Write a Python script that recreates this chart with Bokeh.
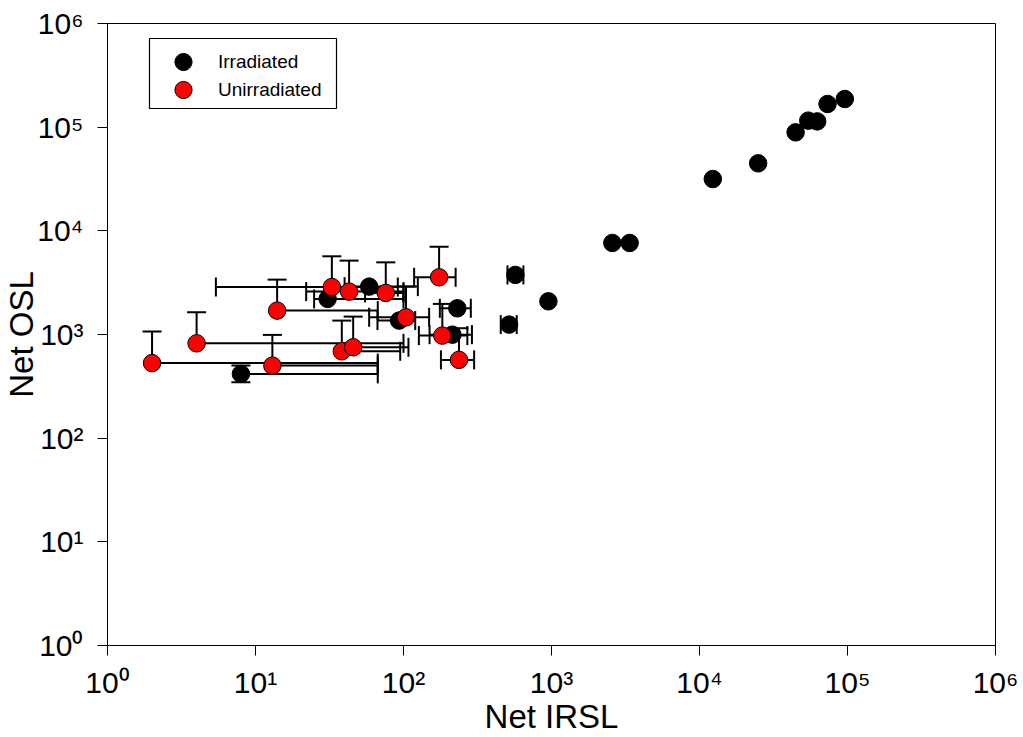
import math
from bokeh.plotting import figure
from bokeh.models import (Range1d, FixedTicker, Legend, LegendItem,
                          ColumnDataSource, BoxAnnotation)
from bokeh.embed import file_html
from bokeh.resources import INLINE

FONT = "Liberation Sans"

# ---------------- data ----------------
x_ticks = [1, 10, 100, 1000, 10000, 100000, 1000000]
y_ticks = [1, 10, 100, 1000, 10000, 100000, 1000000]
tick_labels = ["10⁰", "10¹", "10²", "10³", "10⁴", "10⁵", "10⁶"]

# Irradiated (black)
irr_x = [2577, 3373, 12300, 24900, 44600, 54300, 62400, 73300, 95900,
         570, 953, 517, 231, 214, 93.4, 58.6, 30.7, 7.97]
irr_y = [7640, 7640, 31600, 44800, 89100, 115600, 113700, 167400, 187000,
         3756, 2090, 1246, 1790, 996, 1362, 2897, 2204, 417]
irr_xlo = [None] * 9 + [504, None, 454, 176, 150, 66.7, 40, 24.9, None]
irr_xhi = [None] * 9 + [646, None, 582, 285, 290, 120, 125, 100, 67]
irr_ylo = [None] * 17 + [347]
irr_yhi = [None] * 17 + [501]

# Unirradiated (red)
uni_x = [2.0, 4.0, 13.0, 14.0, 32.8, 42.9, 75.9, 104, 38.3, 45.7, 174, 183, 237]
uni_y = [530, 822, 501, 1700, 2870, 2593, 2518, 1466, 689, 753, 3564, 976, 569]
uni_xlo = [None, None, None, None, 5.4, 22, 55, 58.6, None, None, 118, 127, 179]
uni_xhi = [67, 100, 67, 67, 91.5, 100, 100, 149, 95, 108, 225, 270, 300]
uni_ylo = [None] * 13
uni_yhi = [1067, 1637, 991, 3383, 5680, 5161, 4967, 2897, 1362, 1488, 7040, 1973, 1150]

series_names = ["Irradiated", "Unirradiated"]
x_title = "Net IRSL"
y_title = "Net OSL"


def error_sources(xs, ys, xlo, xhi, ylo, yhi):
    seg = dict(x0=[], y0=[], x1=[], y1=[])
    hcap = dict(x=[], y=[])   # caps on horizontal bars (vertical ticks)
    vcap = dict(x=[], y=[])   # caps on vertical bars (horizontal ticks)
    for x, y, a, b, c, d in zip(xs, ys, xlo, xhi, ylo, yhi):
        if a is not None or b is not None:
            seg["x0"].append(a if a is not None else x)
            seg["x1"].append(b if b is not None else x)
            seg["y0"].append(y)
            seg["y1"].append(y)
            for v in (a, b):
                if v is not None:
                    hcap["x"].append(v)
                    hcap["y"].append(y)
        if c is not None or d is not None:
            seg["x0"].append(x)
            seg["x1"].append(x)
            seg["y0"].append(c if c is not None else y)
            seg["y1"].append(d if d is not None else y)
            for v in (c, d):
                if v is not None:
                    vcap["x"].append(x)
                    vcap["y"].append(v)
    return (ColumnDataSource(seg), ColumnDataSource(hcap), ColumnDataSource(vcap))


p = figure(width=1023, height=737, x_axis_type="log", y_axis_type="log",
           x_range=Range1d(x_ticks[0], x_ticks[-1]),
           y_range=Range1d(y_ticks[0], y_ticks[-1]),
           output_backend="svg", toolbar_location=None,
           min_border_left=107, min_border_right=28,
           min_border_top=23, min_border_bottom=92)
p.grid.visible = False
p.outline_line_color = "black"
p.outline_line_width = 1
p.outline_line_alpha = 1.0

for ax, ticks, title in ((p.xaxis[0], x_ticks, x_title), (p.yaxis[0], y_ticks, y_title)):
    ax.ticker = FixedTicker(ticks=ticks, minor_ticks=[])
    ax.major_tick_out = 10
    ax.major_tick_in = 0
    ax.minor_tick_out = 0
    ax.minor_tick_in = 0
    ax.major_tick_line_color = "black"
    ax.axis_line_color = "black"
    ax.major_label_overrides = {t: s for t, s in zip(ticks, tick_labels)}
    ax.major_label_text_font = FONT
    ax.major_label_text_font_size = "30px"
    ax.major_label_text_color = "black"
    ax.axis_label = title
    ax.axis_label_text_font = FONT
    ax.axis_label_text_font_size = "33px"
    ax.axis_label_text_font_style = "normal"
    ax.axis_label_text_color = "black"

p.xaxis[0].major_label_standoff = 10
p.xaxis[0].axis_label_standoff = -4
p.yaxis[0].major_label_standoff = 14
p.yaxis[0].axis_label_standoff = -6

CAP = 19
LW = 2


def draw_series(xs, ys, xlo, xhi, ylo, yhi, fill):
    seg, hcap, vcap = error_sources(xs, ys, xlo, xhi, ylo, yhi)
    p.segment("x0", "y0", "x1", "y1", source=seg, line_color="black", line_width=LW)
    p.scatter("x", "y", source=hcap, marker="dash", size=CAP, angle=math.pi / 2,
              line_color="black", line_width=LW)
    p.scatter("x", "y", source=vcap, marker="dash", size=CAP,
              line_color="black", line_width=LW)
    r = p.scatter(xs, ys, marker="circle", size=17.5, fill_color=fill,
                  line_color="black", line_width=1)
    return r


r_irr = draw_series(irr_x, irr_y, irr_xlo, irr_xhi, irr_ylo, irr_yhi, "black")
r_uni = draw_series(uni_x, uni_y, uni_xlo, uni_xhi, uni_ylo, uni_yhi, "#ff0000")

# legend frame (screen units, relative to the plot frame's lower-left corner)
box = BoxAnnotation(left=42, right=229, bottom=537, top=607,
                    left_units="screen", right_units="screen",
                    bottom_units="screen", top_units="screen",
                    fill_color="white", fill_alpha=1.0,
                    line_color="black", line_width=1.2, line_alpha=1.0,
                    level="underlay")
p.add_layout(box)

legend_rows = [(series_names[0], r_irr, 562), (series_names[1], r_uni, 534)]
for name, rend, ypos in legend_rows:
    lg = Legend(items=[LegendItem(label=name, renderers=[rend])],
                location=(44, ypos), orientation="vertical",
                glyph_width=64, glyph_height=43, label_height=43,
                label_standoff=3, spacing=0, padding=0,
                label_text_font=FONT, label_text_font_size="19px",
                label_text_color="black",
                border_line_color=None, background_fill_alpha=0.0)
    p.add_layout(lg)

open("out.html", "w").write(file_html(p, INLINE))
